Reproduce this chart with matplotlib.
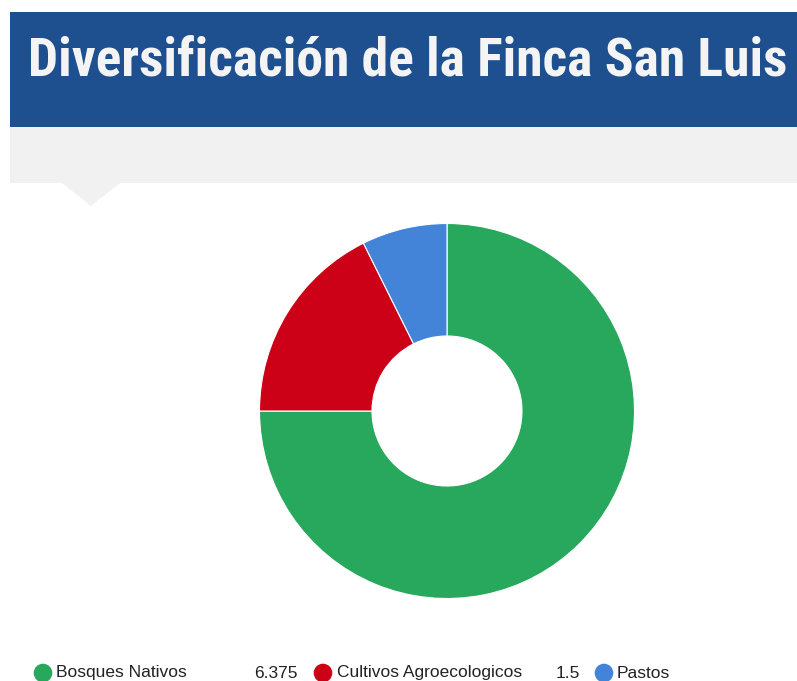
import matplotlib
matplotlib.use("Agg")
import matplotlib.pyplot as plt
from matplotlib import font_manager
from matplotlib.patches import Rectangle, Polygon

# ---- data ----
title = "Diversificación de la Finca San Luis"
categories = ["Bosques Nativos", "Cultivos Agroecologicos", "Pastos"]
values = [6.375, 1.5, 0.625]
colors = ["#28a85c", "#cc0016", "#4384d9"]

W, H = 797, 681
fig = plt.figure(figsize=(W / 100, H / 100), dpi=100)
fig.patch.set_facecolor("white")

def fx(px):
    return px / W

def fy(py):
    return 1 - py / H

# header band
fig.patches.append(Rectangle((fx(10), fy(127)), fx(797) - fx(10), fy(12) - fy(127),
                             transform=fig.transFigure, facecolor="#1e4f8f", edgecolor="none", zorder=0))
# grey band
fig.patches.append(Rectangle((fx(10), fy(183)), fx(797) - fx(10), fy(127) - fy(183),
                             transform=fig.transFigure, facecolor="#f1f1f1", edgecolor="none", zorder=0))
fig.patches.append(Polygon([(fx(62), fy(183)), (fx(120), fy(183)), (fx(91), fy(206))],
                           closed=True, transform=fig.transFigure, facecolor="#f1f1f1",
                           edgecolor="none", zorder=0))

def pick(names):
    for n in names:
        try:
            font_manager.findfont(font_manager.FontProperties(family=n), fallback_to_default=False)
            return n
        except Exception:
            pass
    return "DejaVu Sans"

title_font = pick(["Liberation Sans Narrow", "Roboto Condensed", "DejaVu Sans"])
t = fig.text(fx(408), fy(61), title, color="#f4f4f4", fontsize=38.5, fontweight="bold",
             family=title_font, ha="center", va="center")

# donut
cx, cy, r = 447, 411, 187.5
box = 200
ax = fig.add_axes([fx(cx - box), fy(cy + box), 2 * box / W, 2 * box / H])
lim = box / r
ax.pie(values, colors=colors, startangle=90, counterclock=False,
       wedgeprops=dict(width=0.6, edgecolor="white", linewidth=0.8))
ax.set_xlim(-lim, lim)
ax.set_ylim(-lim, lim)
ax.set_aspect("equal")
ax.axis("off")

# legend
leg_font = pick(["Liberation Sans", "Arial", "DejaVu Sans"])
ly = 673
items = [
    (43, 56, categories[0], 298, f"{values[0]:g}"),
    (323, 337, categories[1], 580, f"{values[1]:g}"),
    (604, 617, categories[2], None, None),
]
lax = fig.add_axes([0, 0, 1, 1], zorder=5)
lax.set_xlim(0, W)
lax.set_ylim(H, 0)
lax.axis("off")
for (mx, tx, lab, vx, val), col in zip(items, colors):
    lax.scatter([mx], [ly], s=180, color=col, edgecolors="none")
    lax.text(tx, ly, lab, fontsize=12.5, family=leg_font, color="#222222",
             ha="left", va="center")
    if val is not None:
        lax.text(vx, ly, val, fontsize=12.5, family=leg_font, color="#222222",
                 ha="right", va="center")

fig.savefig("out.png", dpi=100)
